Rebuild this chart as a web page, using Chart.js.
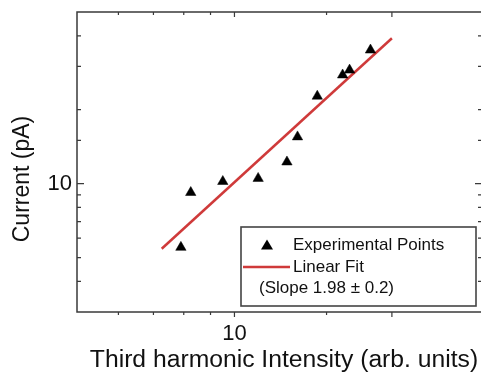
<!DOCTYPE html>
<html>
<head>
<meta charset="utf-8">
<script src="https://cdn.jsdelivr.net/npm/chart.js@4"></script>
<style>
  html, body { margin: 0; padding: 0; background: #ffffff; overflow: hidden; }
  #wrap { width: 484px; height: 374px; }
</style>
</head>
<body>
<div id="wrap"><canvas id="c" width="484" height="374"></canvas></div>
<script>
// ---- data ----
const intensity = [7.9, 8.25, 9.5, 11.1, 12.6, 13.2, 14.4, 16.1, 16.6, 18.2];
const current   = [5.5, 9.2, 10.2, 10.5, 12.25, 15.5, 22.7, 27.7, 29.0, 35.0];
const fitX = [7.26, 20];
const fitY = [5.43, 39.1];
const xTickLabels = [10];
const yTickLabels = [10];
const xTitle = 'Third harmonic Intensity (arb. units)';
const yTitle = 'Current (pA)';
const legendLabels = ['Experimental Points', 'Linear Fit', '(Slope 1.98 \u00B1 0.2)'];

const FONT = "'Liberation Sans', Arial, Helvetica, sans-serif";
const RED = '#cf3a3a';
const FRAME = '#3a3a3a';

const pointData = intensity.map((x, i) => ({ x: x, y: current[i] }));
const fitData = fitX.map((x, i) => ({ x: x, y: fitY[i] }));

const framePlugin = {
  id: 'frame',
  afterDraw(chart) {
    const ctx = chart.ctx;
    const a = chart.chartArea;
    const xs = chart.scales.x, ys = chart.scales.y;
    ctx.save();
    ctx.strokeStyle = FRAME;
    ctx.lineWidth = 1.5;
    ctx.strokeRect(a.left, a.top, a.right - a.left, a.bottom - a.top);
    ctx.lineWidth = 1.2;
    // x ticks
    xs.ticks.forEach(t => {
      if (t.value <= xs.min || t.value >= xs.max) return;
      const px = xs.getPixelForValue(t.value);
      const major = xTickLabels.includes(t.value) || t.value === 20;
      const len = major ? 5 : 3;
      ctx.beginPath();
      ctx.moveTo(px, a.bottom); ctx.lineTo(px, a.bottom + len);
      ctx.moveTo(px, a.top); ctx.lineTo(px, a.top + len);
      ctx.stroke();
    });
    // y ticks
    ys.ticks.forEach(t => {
      if (t.value <= ys.min || t.value >= ys.max) return;
      const py = ys.getPixelForValue(t.value);
      const major = yTickLabels.includes(t.value);
      const len = major ? 7 : 4;
      ctx.beginPath();
      ctx.moveTo(a.left, py); ctx.lineTo(a.left + len, py);
      ctx.moveTo(a.right, py); ctx.lineTo(a.right - len - 2, py);
      ctx.stroke();
    });
    // axis titles
    ctx.fillStyle = '#111111';
    ctx.textAlign = 'center';
    ctx.textBaseline = 'middle';
    ctx.font = '24.7px ' + FONT;
    ctx.fillText(xTitle, 284, 360);
    ctx.save();
    ctx.translate(22.5, 179);
    ctx.rotate(-Math.PI / 2);
    ctx.font = '23px ' + FONT;
    ctx.fillText(yTitle, 0, 0);
    ctx.restore();
    // legend box
    const bx = 241, by = 227, bw = 235, bh = 79;
    ctx.fillStyle = '#ffffff';
    ctx.fillRect(bx, by, bw, bh);
    ctx.strokeStyle = '#444444';
    ctx.lineWidth = 1.6;
    ctx.strokeRect(bx, by, bw, bh);
    // triangle symbol
    ctx.fillStyle = '#000000';
    ctx.beginPath();
    ctx.moveTo(267, 239.5); ctx.lineTo(273, 249.5); ctx.lineTo(261, 249.5); ctx.closePath();
    ctx.fill();
    // red line symbol
    ctx.strokeStyle = RED;
    ctx.lineWidth = 2.5;
    ctx.beginPath();
    ctx.moveTo(243, 267); ctx.lineTo(290, 267);
    ctx.stroke();
    ctx.fillStyle = '#111111';
    ctx.font = '17px ' + FONT;
    ctx.textBaseline = 'middle';
    ctx.textAlign = 'left';
    ctx.fillText(legendLabels[0], 293, 245);
    ctx.fillText(legendLabels[1], 293, 267);
    ctx.fillText(legendLabels[2], 259, 288);
    ctx.restore();
  }
};

new Chart(document.getElementById('c'), {
  type: 'scatter',
  data: {
    datasets: [
      {
        label: legendLabels[1],
        data: fitData,
        showLine: true,
        borderColor: RED,
        borderWidth: 2.5,
        pointRadius: 0,
        order: 2
      },
      {
        label: legendLabels[0],
        data: pointData,
        pointStyle: 'triangle',
        pointRadius: 6,
        backgroundColor: '#000000',
        borderColor: '#000000',
        borderWidth: 0.5,
        order: 1
      }
    ]
  },
  options: {
    responsive: false,
    animation: false,
    layout: { autoPadding: false, padding: { left: 0, right: 0, top: 12, bottom: 0 } },
    plugins: { legend: { display: false }, tooltip: { enabled: false } },
    scales: {
      x: {
        type: 'logarithmic',
        min: 5, max: 30,
        afterFit(s) { s.height = 62; s.paddingLeft = 0; s.paddingRight = 0; },
        grid: { display: false, drawTicks: false },
        border: { display: false },
        ticks: {
          autoSkip: false, maxRotation: 0, padding: 9,
          color: '#111111',
          font: { family: FONT, size: 22 },
          callback: (v) => xTickLabels.includes(v) ? String(v) : ''
        },
        title: { display: false, text: xTitle }
      },
      y: {
        type: 'logarithmic',
        min: 3, max: 50,
        afterFit(s) { s.width = 77; s.paddingTop = 0; s.paddingBottom = 0; },
        grid: { display: false, drawTicks: false },
        border: { display: false },
        ticks: {
          autoSkip: false, padding: 5,
          color: '#111111',
          font: { family: FONT, size: 22 },
          callback: (v) => yTickLabels.includes(v) ? String(v) : ''
        },
        title: { display: false, text: yTitle }
      }
    }
  },
  plugins: [framePlugin]
});
</script>
</body>
</html>
